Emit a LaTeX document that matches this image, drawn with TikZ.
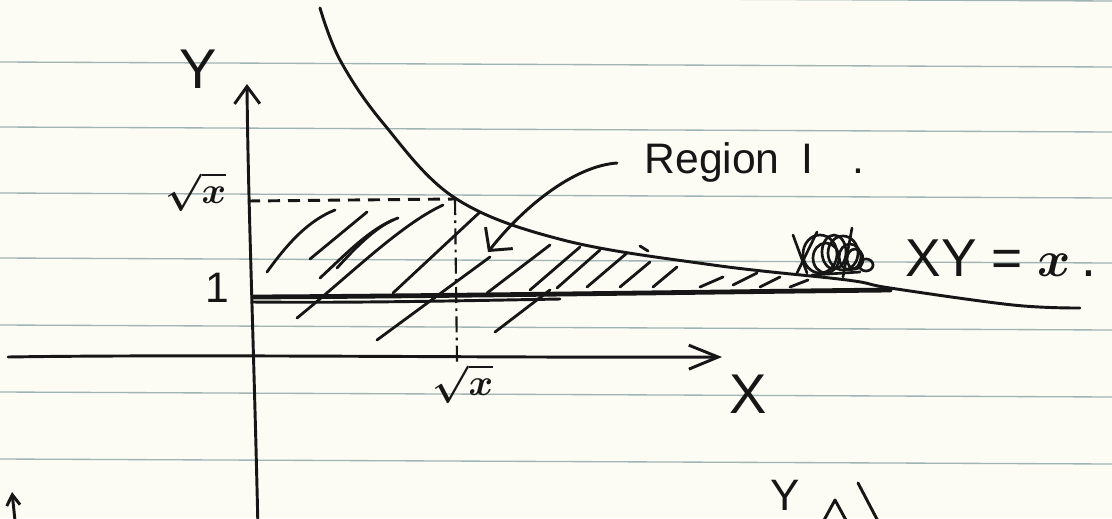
\documentclass[tikz,border=0pt]{standalone}
\usepackage{graphicx}
\usepackage{fontspec}
\setmainfont{Liberation Sans}
\usetikzlibrary{arrows.meta}
\definecolor{ink}{RGB}{22,22,22}
\definecolor{paper}{RGB}{252,251,244}
\definecolor{ruling}{RGB}{160,180,180}
\tikzset{every picture/.style={line width=0.75pt}}
\tikzset{
  pen/.style={draw=ink, line width=2.2pt, line cap=round, line join=round},
  hatch/.style={pen, line width=2.1pt},
  scribble/.style={pen, line width=2pt},
  rule/.style={draw=ruling, line width=1pt},
  inktext/.style={text=ink, inner sep=0.75pt, anchor=base},
  bigtext/.style={inktext, font=\fontsize{42}{42}\selectfont},
  midtext/.style={inktext, font=\fontsize{32}{32}\selectfont},
}
\newcommand{\rootx}{\scalebox{2.8}{\fontsize{10}{12}\selectfont\boldmath$\sqrt{x}$}}
\newcommand{\smallx}{\scalebox{3.8}{\fontsize{10}{12}\selectfont\boldmath$x$}}

\begin{document}
\begin{tikzpicture}[x=0.75pt,y=0.75pt,yscale=-1,xscale=1]
		\clip (0,0) rectangle (1112,518);
		\fill [paper] (0,0) rectangle (1112,518);
		
		%Ruled paper
		\draw [rule] (0,-4) -- (1112,1) ;
		\draw [rule] (0,62) -- (1112,67) ;
		\draw [rule] (0,127) -- (1112,132) ;
		\draw [rule] (0,193) -- (1112,198) ;
		\draw [rule] (0,258) -- (1112,263) ;
		\draw [rule] (0,325) -- (1112,330) ;
		\draw [rule] (0,392) -- (1112,397) ;
		\draw [rule] (0,459) -- (1112,464) ;
		
		%Coordinates
		\coordinate (corner) at (455,199) ;
		\coordinate (cornerfoot) at (457,362) ;
		\coordinate (regiontail) at (617,163) ;
		\coordinate (regiontip) at (488,252) ;
		
		%Axes
		\draw [pen, -{Straight Barb[length=13pt,width=19pt]}] (258,530) .. controls (254,350) and (248,200) .. (247,84) ;
		\draw [pen, -{Straight Barb[length=22pt,width=18pt]}] (8,357) .. controls (200,354) and (500,358) .. (722,357) ;
		
		%Curve Lines: XY = x
		\draw [pen] plot [smooth, tension=0.6] coordinates {(320,8) (340,60) (383,123) (455,198) (563,240) (713,265) (847,280) (890,288) (1013,305) (1080,308)} ;
		
		%Straight Lines: Y = 1
		\draw [pen, line width=3.6pt] (253,297) .. controls (450,296) and (700,292) .. (890,290) ;
		\draw [pen] (253,302) .. controls (350,303) and (450,301) .. (560,299) ;
		
		%Dashed Lines
		\draw [ink, line width=2.2pt, dash pattern=on 9pt off 6pt] (248,201) -- (corner) ;
		\draw [ink, line width=1.6pt, dash pattern=on 12pt off 4pt on 2pt off 4pt] (corner) -- (cornerfoot) ;
		
		%Hatching
		\draw [hatch] (267,272) .. controls (290,240) and (310,220) .. (335,210) ;
		\draw [hatch] (310,259) -- (367,212) ;
		\draw [hatch] (320,278) .. controls (345,255) and (370,228) .. (398,218) ;
		\draw [hatch] (337,268) .. controls (355,248) and (375,228) .. (393,220) ;
		\draw [hatch] (297,318) .. controls (350,275) and (400,225) .. (443,205) ;
		\draw [hatch] (393,293) -- (480,212) ;
		\draw [hatch] (377,340) -- (490,257) ;
		\draw [hatch] (487,293) -- (550,245) ;
		\draw [hatch] (495,332) -- (550,290) ;
		\draw [hatch] (530,290) -- (580,247) ;
		\draw [hatch] (557,288) -- (600,250) ;
		\draw [hatch] (587,287) -- (627,253) ;
		\draw [hatch] (620,287) -- (650,262) ;
		\draw [hatch] (653,287) -- (677,267) ;
		\draw [hatch] (640,246) -- (648,251) ;
		\draw [hatch] (700,287) -- (723,277) ;
		\draw [hatch] (733,285) -- (757,273) ;
		\draw [hatch] (760,287) -- (780,277) ;
		\draw [hatch] (790,287) -- (808,280) ;
		
		%Scribble
		\draw [scribble] (793,235) -- (807,273) ;
		\draw [scribble] (817,232) -- (797,273) ;
		\draw [scribble] (820,254) ellipse [x radius=17, y radius=19] ;
		\draw [scribble] (826,258) ellipse [x radius=13, y radius=15] ;
		\draw [scribble] (834,252) ellipse [x radius=12, y radius=17] ;
		\draw [scribble] (843,253) ellipse [x radius=15, y radius=17] ;
		\draw [scribble] (850,257) ellipse [x radius=11, y radius=13] ;
		\draw [scribble] (855,259) ellipse [x radius=8, y radius=10] ;
		\draw [scribble] (852,228) -- (843,277) ;
		\draw [scribble] (866,265) ellipse [x radius=7, y radius=6] ;
		\draw [scribble] (812,275) -- (860,272) ;
		
		%Arrow: Region I
		\draw [pen, -{Straight Barb[length=12pt,width=26pt]}] (regiontail) .. controls (575,166) and (525,205) .. (regiontip) ;
		
		%Next figure (cut off)
		\draw [pen, -{Straight Barb[length=8pt,width=10pt]}] (16,530) -- (12,492) ;
		\draw [pen] (823,522) -- (835,500) -- (847,522) ;
		\draw [pen] (858,483) -- (880,525) ;
		
		% Text Node
		\draw (198,88) node (ylabel) [bigtext] {Y};
		% Text Node
		\draw (748,413) node (xlabel) [bigtext] {X};
		% Text Node
		\draw (217,302) node (onelabel) [midtext] {1};
		% Text Node
		\draw (196,203) node (rootylabel) [inktext] {\rootx};
		% Text Node
		\draw (463,395) node (rootxlabel) [inktext] {\rootx};
		% Text Node
		\draw (643,173) node (region) [midtext, anchor=base west] {Region\hspace{16pt}I\hspace{30pt}.};
		% Text Node
		\draw (904,276) node (curvelabel) [bigtext, anchor=base west, font=\fontsize{40}{40}\selectfont] {XY = \smallx\hspace{8pt}.};
		% Text Node
		\draw (785,510) node (nextylabel) [inktext, font=\fontsize{33}{33}\selectfont] {Y};
		
	\end{tikzpicture}
\end{document}
